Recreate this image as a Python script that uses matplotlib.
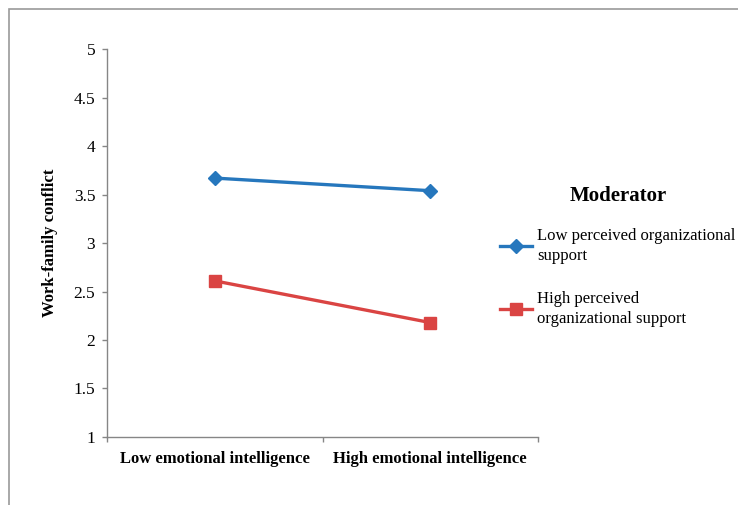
import matplotlib.pyplot as plt
from matplotlib.patches import Rectangle

# Datos
categories = ["Low emotional intelligence", "High emotional intelligence"]
low_support = [3.67, 3.54]
high_support = [2.61, 2.18]
series_labels = ["Low perceived organizational\nsupport",
                 "High perceived\norganizational support"]
yticks = [1, 1.5, 2, 2.5, 3, 3.5, 4, 4.5, 5]

plt.rcParams['font.family'] = ['Liberation Serif', 'DejaVu Serif']

fig = plt.figure(figsize=(7.38, 5.05), dpi=100)
ax = fig.add_axes([0.145, 0.1347, 0.584, 0.768])

xs = [1, 2]
ax.plot(xs, low_support, color='#2677bd', lw=2.4, marker='D', ms=7.5,
        label=series_labels[0])
ax.plot(xs, high_support, color='#da4443', lw=2.4, marker='s', ms=9,
        label=series_labels[1])

ax.set_xlim(0.5, 2.5)
ax.set_ylim(1, 5)
ax.set_yticks(yticks)
ax.set_yticklabels([f"{t:g}" for t in yticks], fontsize=12.5)
ax.set_xticks(xs)
ax.set_xticklabels(categories, fontsize=12, fontweight='bold')
ax.set_xticks([0.5, 1.5, 2.5], minor=True)
ax.tick_params(axis='x', which='major', length=0, pad=10)
ax.tick_params(axis='x', which='minor', length=3.5, color='#868686', width=1)
ax.tick_params(axis='y', length=3.5, color='#868686', width=1, pad=5)

for s in ['top', 'right']:
    ax.spines[s].set_visible(False)
for s in ['left', 'bottom']:
    ax.spines[s].set_color('#868686')
    ax.spines[s].set_linewidth(1)

ax.set_ylabel("Work-family conflict", fontsize=12, fontweight='bold', labelpad=11)

leg = fig.legend(loc='upper left', bbox_to_anchor=(0.6775, 0.632), frameon=False,
                 title="Moderator", fontsize=12, handlelength=1.9,
                 handletextpad=0.35, labelspacing=1.6, borderpad=0,
                 borderaxespad=0)
leg.get_title().set_fontsize(15)
leg.get_title().set_fontweight('bold')
for t in leg.get_texts():
    t.set_linespacing(1.35)
leg._legend_box.sep = 16

# borde de la figura
fig.add_artist(Rectangle((0.012, -0.1), 1.2, 1.082, transform=fig.transFigure,
                         fill=False, edgecolor='#9a9a9a', lw=1.2))

plt.savefig("out.png", dpi=100)
